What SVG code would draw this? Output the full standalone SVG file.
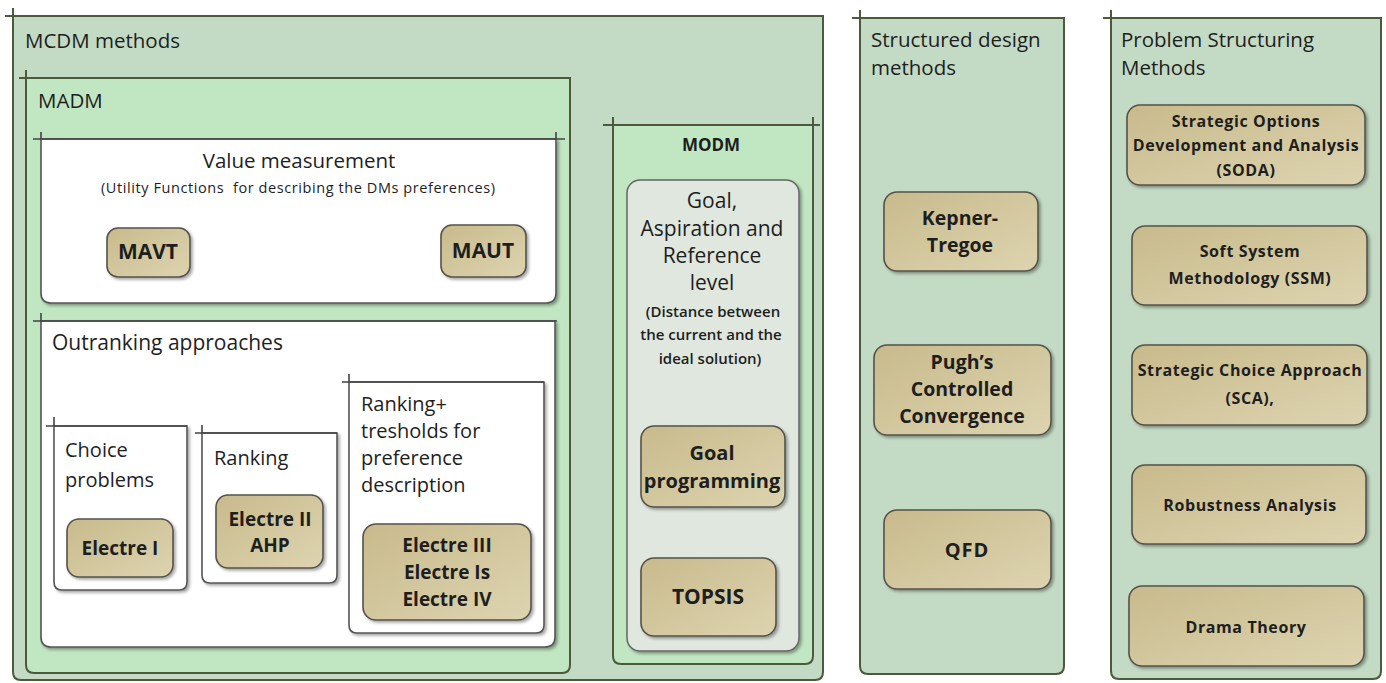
<svg xmlns="http://www.w3.org/2000/svg" width="1386" height="683" viewBox="0 0 1386 683">
<style>
text{font-family:"Open Sans","Liberation Sans",sans-serif;fill:#1e1e1e}
.frame{stroke:#4b5a3a;stroke-width:2}
.edge{stroke:#4b5a3a;stroke-width:2;fill:none}
.outer{fill:#c3dac4}
.inner{fill:#c0e6c2}
.white{fill:#ffffff;stroke:#555;stroke-width:1.6}
.tan{fill:url(#tanGrad);stroke:#55534a;stroke-width:1.6;filter:url(#sh)}
.gray{fill:#dfe7df;stroke:#666;stroke-width:1.5;filter:url(#sh)}
.h{font-size:20px}
.b{font-weight:bold;text-anchor:middle}
.c{text-anchor:middle}
.p{font-size:16px;font-weight:bold;text-anchor:middle;letter-spacing:0.6px}
</style>
<defs>
<linearGradient id="tanGrad" x1="0" y1="0" x2="1" y2="1">
<stop offset="0" stop-color="#c8ba8c"/>
<stop offset="1" stop-color="#ddd4b0"/>
</linearGradient>
<filter id="sh" x="-10%" y="-10%" width="130%" height="130%">
<feDropShadow dx="2" dy="2" stdDeviation="1.5" flood-color="#000" flood-opacity="0.35"/>
</filter>
</defs>

<g id="mcdm">
<path class="outer frame" d="M13,16 V672 Q13,680 21,680 H815 Q823,680 823,672 V16 Z"/>
<path class="edge" d="M5,16 H823 M13,8 V16"/>
<text x="25" y="48" style="font-size:20.5px">MCDM methods</text>
</g>

<g id="madm">
<path class="inner frame" d="M26,78 V665 Q26,673 34,673 H562 Q570,673 570,665 V78 Z"/>
<path class="edge" d="M19,78 H570 M26,70 V78"/>
<text x="38" y="108" style="font-size:20.5px">MADM</text>
</g>

<g id="value-measurement">
<path class="white" filter="url(#sh)" d="M41,139 V293 Q41,303 51,303 H546 Q556,303 556,293 V139 Z"/>
<path d="M33,139 H565 M41,132 V139 M556,132 V139" stroke="#444" stroke-width="1.6" fill="none"/>
<text x="299" y="168" class="c" style="font-size:20.5px">Value measurement</text>
<text x="298" y="193" class="c" style="font-size:14.5px;white-space:pre" xml:space="preserve" textLength="394" lengthAdjust="spacing">(Utility Functions  for describing the DMs preferences)</text>
</g>
<g id="mavt">
<rect class="tan" x="107" y="228" width="83" height="49" rx="11"/>
<text x="148" y="259" class="b" style="font-size:21px">MAVT</text>
</g>
<g id="maut">
<rect class="tan" x="441" y="225" width="85" height="52" rx="11"/>
<text x="483" y="258" class="b" style="font-size:21px">MAUT</text>
</g>

<g id="outranking">
<path class="white" filter="url(#sh)" d="M41,321 V637 Q41,647 51,647 H545 Q555,647 555,637 V321 Z"/>
<path d="M33,321 H557 M41,313 V321" stroke="#444" stroke-width="1.6" fill="none"/>
<text x="52" y="350" style="font-size:21px">Outranking approaches</text>
</g>

<g id="choice">
<path class="white" filter="url(#sh)" d="M54,426 V582 Q54,590 62,590 H179 Q187,590 187,582 V426 Z"/>
<path d="M46,426 H187 M54,417 V426" stroke="#444" stroke-width="1.6" fill="none"/>
<text x="65" y="457" class="h">Choice</text>
<text x="65" y="487" class="h">problems</text>
</g>
<g id="electre1">
<rect class="tan" x="67" y="519" width="106" height="58" rx="12"/>
<text x="120" y="555" class="b" style="font-size:19px">Electre I</text>
</g>

<g id="ranking">
<path class="white" filter="url(#sh)" d="M202,433 V575 Q202,583 210,583 H329 Q337,583 337,575 V433 Z"/>
<path d="M195,433 H337 M202,425 V433" stroke="#444" stroke-width="1.6" fill="none"/>
<text x="214" y="465" class="h">Ranking</text>
</g>
<g id="electre2">
<rect class="tan" x="216" y="495" width="107" height="73" rx="12"/>
<text x="270" y="526" class="b" style="font-size:19px">Electre II</text>
<text x="270" y="552" class="b" style="font-size:19px">AHP</text>
</g>

<g id="ranking-thresholds">
<path class="white" filter="url(#sh)" d="M349,382 V625 Q349,633 357,633 H536 Q544,633 544,625 V382 Z"/>
<path d="M342,382 H544 M349,374 V382" stroke="#444" stroke-width="1.6" fill="none"/>
<text x="361" y="411" class="h">Ranking+</text>
<text x="361" y="438" class="h">tresholds for</text>
<text x="361" y="465" class="h">preference</text>
<text x="361" y="492" class="h">description</text>
</g>
<g id="electre3">
<rect class="tan" x="363" y="524" width="168" height="96" rx="13"/>
<text x="447" y="552" class="b" style="font-size:19px">Electre III</text>
<text x="447" y="579" class="b" style="font-size:19px">Electre Is</text>
<text x="447" y="606" class="b" style="font-size:19px">Electre IV</text>
</g>

<g id="modm">
<path class="inner frame" d="M613,125 V656 Q613,664 621,664 H805 Q813,664 813,656 V125 Z"/>
<path class="edge" d="M603,125 H820 M613,117 V125 M813,117 V125"/>
<text x="711" y="151" class="b" style="font-size:17px">MODM</text>
</g>
<g id="goal-aspiration">
<rect class="gray" x="627" y="180" width="172" height="471" rx="13"/>
<text x="712" y="208" class="c" style="font-size:21px">Goal,</text>
<text x="712" y="236" class="c" style="font-size:21px">Aspiration and</text>
<text x="712" y="263" class="c" style="font-size:21px">Reference</text>
<text x="712" y="290" class="c" style="font-size:21px">level</text>
<text x="713" y="317" class="c" style="font-size:15px;font-weight:600">(Distance between</text>
<text x="711" y="340" class="c" style="font-size:15px;font-weight:600">the current and the</text>
<text x="710" y="364" class="c" style="font-size:15px;font-weight:600">ideal solution)</text>
</g>
<g id="goal-programming">
<rect class="tan" x="641" y="426" width="144" height="81" rx="13"/>
<text x="712" y="460" class="b" style="font-size:20px">Goal</text>
<text x="712" y="488" class="b" style="font-size:20px">programming</text>
</g>
<g id="topsis">
<rect class="tan" x="641" y="558" width="135" height="78" rx="13"/>
<text x="708" y="604" class="b" style="font-size:21px">TOPSIS</text>
</g>

<g id="structured-design">
<path class="outer frame" d="M860,18 V666 Q860,674 868,674 H1056 Q1064,674 1064,666 V18 Z"/>
<path class="edge" d="M852,18 H1065 M860,10 V18"/>
<text x="871" y="47" style="font-size:20.5px">Structured design</text>
<text x="871" y="75" style="font-size:20.5px">methods</text>
</g>
<g id="kepner-tregoe">
<rect class="tan" x="884" y="192" width="154" height="79" rx="13"/>
<text x="960" y="225" class="b" style="font-size:19.5px">Kepner-</text>
<text x="960" y="252" class="b" style="font-size:19.5px">Tregoe</text>
</g>
<g id="pugh">
<rect class="tan" x="874" y="345" width="177" height="90" rx="13"/>
<text x="962" y="369" class="b" style="font-size:19.5px">Pugh’s</text>
<text x="962" y="396" class="b" style="font-size:19.5px">Controlled</text>
<text x="962" y="423" class="b" style="font-size:19.5px">Convergence</text>
</g>
<g id="qfd">
<rect class="tan" x="884" y="510" width="167" height="79" rx="13"/>
<text x="967" y="557" class="b" style="font-size:20px;letter-spacing:1px">QFD</text>
</g>

<g id="problem-structuring">
<path class="outer frame" d="M1111,18 V671 Q1111,679 1119,679 H1373 Q1381,679 1381,671 V18 Z"/>
<path class="edge" d="M1103,18 H1381 M1111,10 V18"/>
<text x="1121" y="47" style="font-size:20.5px">Problem Structuring</text>
<text x="1121" y="75" style="font-size:20.5px">Methods</text>
</g>
<g id="soda">
<rect class="tan" x="1127" y="105" width="238" height="80" rx="13"/>
<text x="1246" y="127" class="p">Strategic Options</text>
<text x="1246" y="151" class="p">Development and Analysis</text>
<text x="1246" y="176" class="p">(SODA)</text>
</g>
<g id="ssm">
<rect class="tan" x="1132" y="226" width="235" height="79" rx="13"/>
<text x="1250" y="257" class="p">Soft System</text>
<text x="1250" y="284" class="p">Methodology (SSM)</text>
</g>
<g id="sca">
<rect class="tan" x="1132" y="345" width="235" height="80" rx="13"/>
<text x="1250" y="376" class="p">Strategic Choice Approach</text>
<text x="1250" y="404" class="p">(SCA),</text>
</g>
<g id="robustness">
<rect class="tan" x="1132" y="465" width="234" height="79" rx="13"/>
<text x="1250" y="511" class="p">Robustness Analysis</text>
</g>
<g id="drama-theory">
<rect class="tan" x="1129" y="586" width="235" height="80" rx="13"/>
<text x="1246" y="633" class="p">Drama Theory</text>
</g>

<g id="connectors"></g>
</svg>
